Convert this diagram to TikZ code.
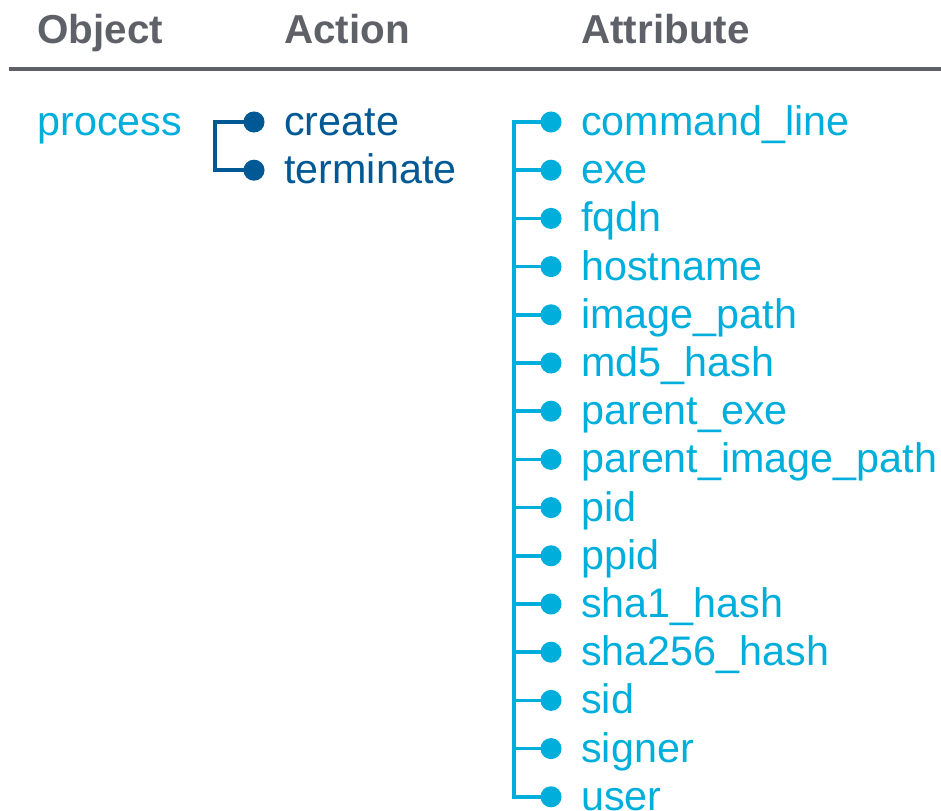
\documentclass[tikz,border=0pt]{standalone}
\usepackage{fontspec}
\setmainfont{Liberation Sans}
\usetikzlibrary{positioning}
\definecolor{slate}{RGB}{94, 98, 104}
\definecolor{skyblue}{RGB}{0, 174, 219}
\definecolor{deepblue}{RGB}{0, 89, 148}

\tikzset{
    header/.style={anchor=base west, inner sep=0pt, text=slate, font=\fontsize{23pt}{27pt}\selectfont\bfseries},
    item/.style={anchor=base west, inner sep=0pt, font=\fontsize{23.5pt}{28pt}\selectfont},
    bullet/.style={circle, fill, inner sep=0pt, outer sep=0pt, minimum size=12pt, font=\tiny},
    branch/.style={line width=2pt}
}

\begin{document}
\begin{tikzpicture}[x=0.02cm, y=-0.02cm]
        \useasboundingbox (0,0) rectangle (941,811);
        % column heads
        \node[header] (object)    at ( 37, 44) {Object};
        \node[header] (action)    at (284, 44) {Action};
        \node[header] (attribute) at (581, 44) {Attribute};
        \draw[slate, line width=2pt] (9,69) -- (941,69);
        % object
        \node[item, text=skyblue] (process) at (37,135.5) {process};
        % actions
        \node[bullet, deepblue] (create-dot)    at (254,122) {};
        \node[bullet, deepblue] (terminate-dot) at (254,170.2) {};
        \node[item, text=deepblue] (create)    at (284,135.5) {create};
        \node[item, text=deepblue] (terminate) at (284,183.7) {terminate};
        \coordinate (action-trunk) at (215,122);
        \draw[branch, deepblue] (create-dot.center) -- (action-trunk) |- (terminate-dot.center);
        % attributes
        \foreach \attr [count=\i] in {command\_line, exe, fqdn, hostname, image\_path, md5\_hash,
                parent\_exe, parent\_image\_path, pid, ppid, sha1\_hash, sha256\_hash, sid, signer, user} {
            \node[bullet, skyblue] (dot-\i) at (551, 122+48.2*\i-48.2) {};
            \node[item, text=skyblue] (attr-\i) at (581, 135.5+48.2*\i-48.2) {\attr};
        }
        \coordinate (attr-trunk) at (514,122);
        \draw[branch, skyblue] (dot-1.center) -- (attr-trunk) |- (dot-15.center);
        \foreach \i in {2,...,14}
            \draw[branch, skyblue] (attr-trunk |- dot-\i) -- (dot-\i.center);
\end{tikzpicture}
\end{document}
